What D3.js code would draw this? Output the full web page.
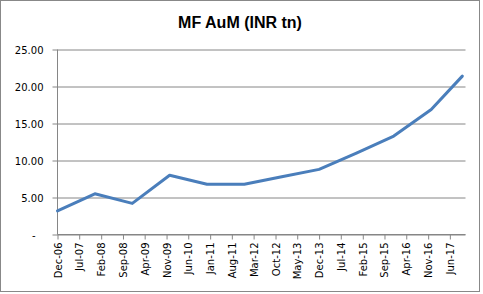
<!DOCTYPE html>
<html>
<head>
<meta charset="utf-8">
<script src="https://cdn.jsdelivr.net/npm/d3@7"></script>
<style>
  html, body { margin: 0; padding: 0; background: #fff; }
  svg { display: block; }
</style>
</head>
<body>
<svg id="chart" width="483" height="294"></svg>
<script>
// ---- data ----
const title = "MF AuM (INR tn)";
const dates = ["Dec-06","Dec-07","Dec-08","Dec-09","Dec-10","Dec-11","Dec-12","Dec-13","Dec-14","Dec-15","Dec-16","Oct-17"];
const values = [3.2, 5.5, 4.2, 8.0, 6.8, 6.8, 7.8, 8.8, 11.0, 13.3, 16.9, 21.4];
const xTickLabels = ["Dec-06","Jul-07","Feb-08","Sep-08","Apr-09","Nov-09","Jun-10","Jan-11","Aug-11","Mar-12","Oct-12","May-13","Dec-13","Jul-14","Feb-15","Sep-15","Apr-16","Nov-16","Jun-17"];
const xDomain = ["Dec-06", "Nov-17"];
const yTicks = [0, 5, 10, 15, 20, 25];
const yTickLabels = ["-", "5.00", "10.00", "15.00", "20.00", "25.00"];

// ---- layout ----
const W = 483, H = 294;
const m = { left: 57.5, right: 465.5, top: 49.5, bottom: 234.5 };
const parse = d3.timeParse("%b-%y");
const gridColor = "#868686";
const font = "'DejaVu Sans', Verdana, sans-serif";

const svg = d3.select("#chart");

// outer border
svg.append("rect")
  .attr("x", 0.5).attr("y", 0.5)
  .attr("width", 479).attr("height", 291)
  .attr("fill", "#fff").attr("stroke", "#888").attr("stroke-width", 1);

const x = d3.scaleTime()
  .domain(xDomain.map(parse))
  .range([m.left, m.right]);
const y = d3.scaleLinear()
  .domain([0, 25])
  .range([m.bottom, m.top]);

// title
svg.append("text")
  .attr("x", 240).attr("y", 28)
  .attr("text-anchor", "middle")
  .style("font-family", "'Liberation Sans', Arial, sans-serif")
  .style("font-weight", "bold")
  .style("font-size", "16px")
  .attr("fill", "#000")
  .text(title);

// y axis with gridlines
const yAxis = d3.axisLeft(y)
  .tickValues(yTicks)
  .tickSize(-(m.right - m.left))
  .tickFormat((d, i) => yTickLabels[i]);
const gy = svg.append("g")
  .attr("transform", `translate(${m.left},0)`)
  .call(yAxis);
gy.select(".domain").remove();
gy.selectAll(".tick line")
  .attr("x1", -5)
  .attr("stroke", gridColor).attr("stroke-width", 1);
gy.selectAll(".tick text")
  .attr("x", (d) => d === 0 ? -22 : -14)
  .attr("dy", "0.35em")
  .style("font-family", font)
  .style("font-size", "10px")
  .attr("fill", "#000");

// y axis line
svg.append("line")
  .attr("x1", m.left).attr("x2", m.left)
  .attr("y1", m.top).attr("y2", m.bottom)
  .attr("stroke", gridColor).attr("stroke-width", 1);

// x axis
const xAxis = d3.axisBottom(x)
  .tickValues(xTickLabels.map(parse))
  .tickSize(5)
  .tickFormat(d3.timeFormat("%b-%y"));
const gx = svg.append("g")
  .attr("transform", `translate(0,${m.bottom})`)
  .call(xAxis);
gx.select(".domain")
  .attr("d", `M${m.left},0H${m.right}`)
  .attr("stroke", gridColor);
gx.selectAll(".tick line").attr("stroke", gridColor);
gx.selectAll(".tick text")
  .attr("transform", "rotate(-90)")
  .attr("text-anchor", "end")
  .attr("x", -8)
  .attr("y", 0)
  .attr("dy", "0.35em")
  .style("font-family", font)
  .style("font-size", "10px")
  .attr("fill", "#000");

// line
const line = d3.line()
  .x((d, i) => x(parse(dates[i])))
  .y((d) => y(d));
svg.append("path")
  .datum(values)
  .attr("d", line)
  .attr("fill", "none")
  .attr("stroke", "#4A7EBB")
  .attr("stroke-width", 3)
  .attr("stroke-linejoin", "round")
  .attr("stroke-linecap", "round");
</script>
</body>
</html>
